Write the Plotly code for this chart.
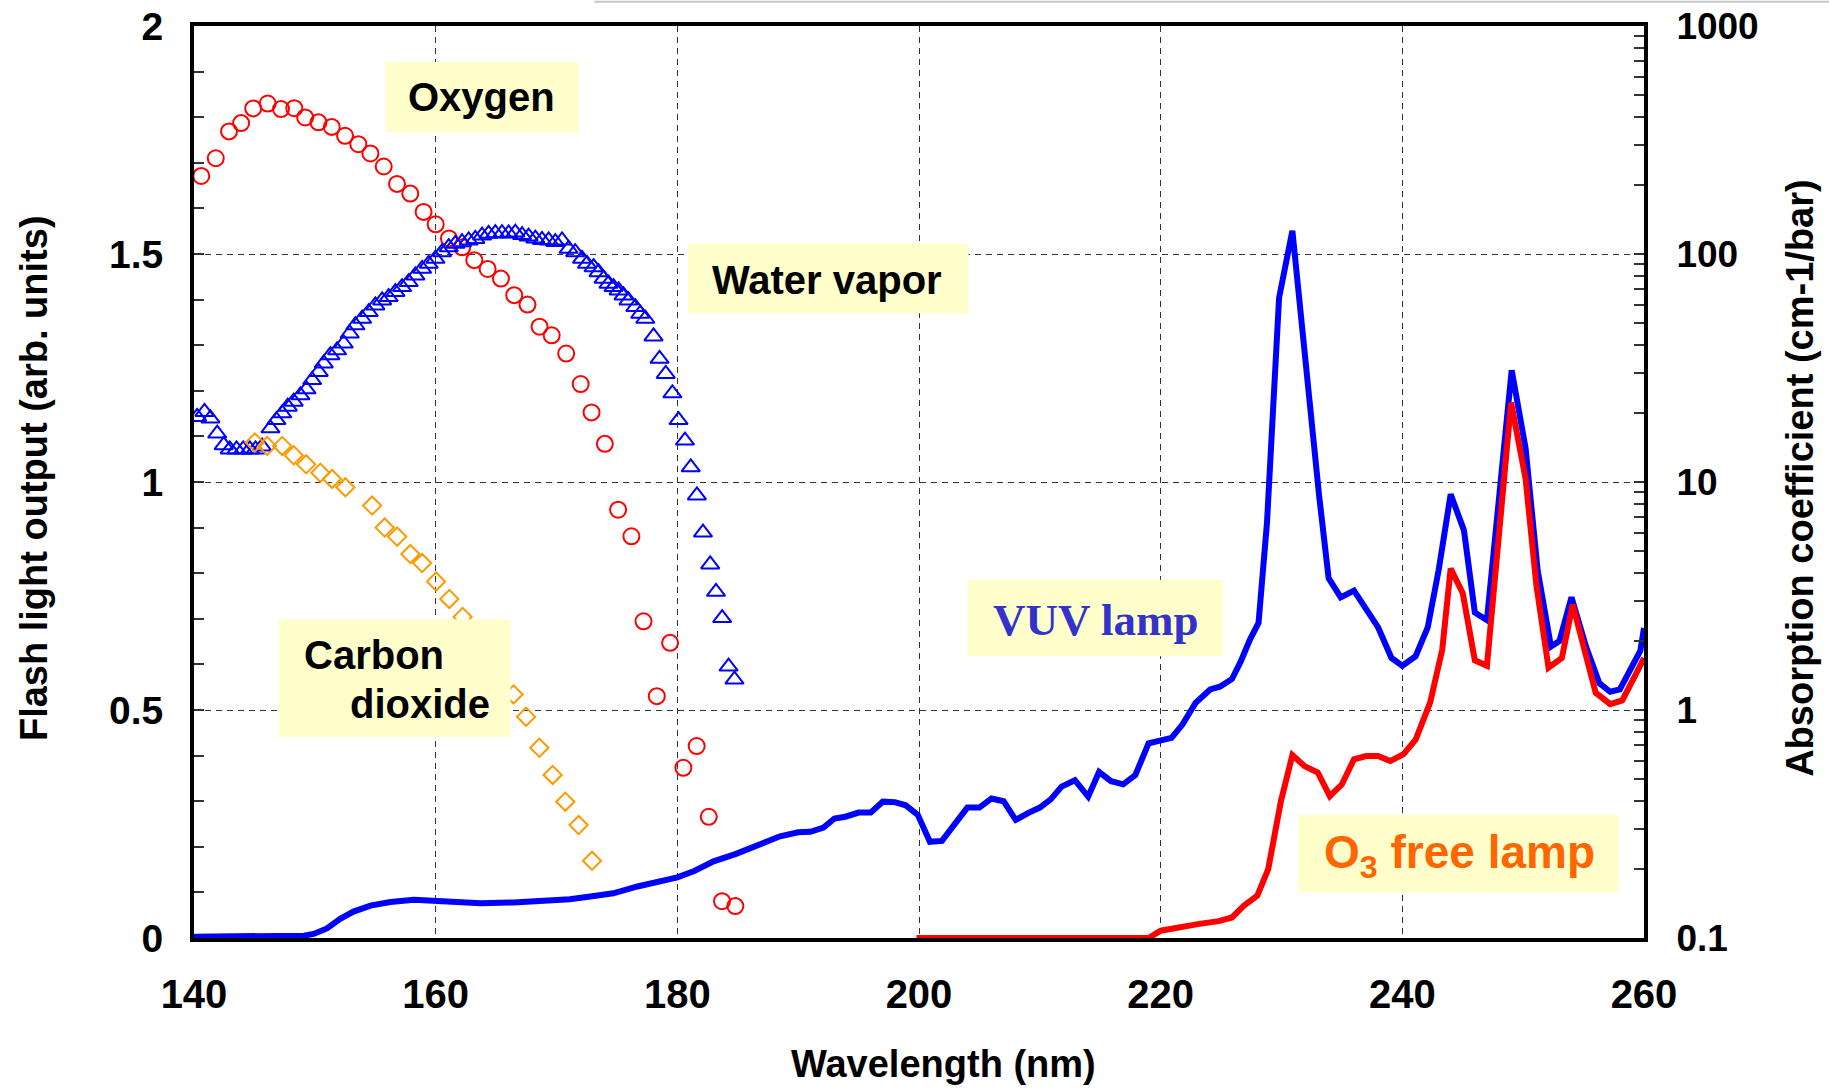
import plotly.graph_objects as go

# ---------------- data ----------------
# VUV lamp flash output (left axis, arb. units)
VUV_wl = [140, 145, 149.1, 149.9, 151.0, 152.1, 153.2, 154.6, 156.25, 158.2, 160.1, 161.8, 163.7, 166.45,
          169.2, 171.1, 172.8, 174.7, 176.7, 178.3, 180.0, 181.4, 183.0, 184.8, 186.9, 188.5, 190.0, 191.0,
          192.1, 193.0, 193.9, 195.0, 196.0, 197.0, 198.0, 198.9, 199.9, 200.9, 201.9, 203.0, 204.0, 205.0,
          206.0, 207.0, 208.0, 209.1, 210.0, 210.9, 211.8, 212.9, 214.0, 214.9, 215.9, 216.9, 217.9, 219.0,
          220.0, 220.9, 221.8, 222.9, 224.1, 224.9, 225.9, 226.6, 227.4, 228.1, 228.8, 229.8, 230.9, 232.1,
          233.1, 233.9, 234.9, 236.0, 238.0, 239.1, 240.0, 241.1, 242.1, 243.0, 244.0, 245.1, 246.0, 247.0,
          248.0, 249.05, 250.2, 251.2, 252.3, 253.0, 254.0, 255.2, 256.3, 257.2, 258.0, 258.8, 259.7, 260.0]
VUV_out = [0.003, 0.003, 0.005, 0.009, 0.021, 0.042, 0.058, 0.071, 0.079, 0.084, 0.082, 0.077, 0.076, 0.078,
           0.082, 0.085, 0.091, 0.098, 0.113, 0.122, 0.133, 0.147, 0.168, 0.184, 0.206, 0.223, 0.232, 0.233,
           0.242, 0.262, 0.266, 0.275, 0.275, 0.299, 0.298, 0.291, 0.270, 0.211, 0.213, 0.253, 0.286, 0.286,
           0.306, 0.300, 0.259, 0.275, 0.286, 0.304, 0.332, 0.346, 0.310, 0.364, 0.344, 0.337, 0.357, 0.427,
           0.432, 0.439, 0.468, 0.516, 0.545, 0.551, 0.568, 0.605, 0.655, 0.691, 0.911, 1.404, 1.551, 1.225,
           0.973, 0.789, 0.747, 0.762, 0.681, 0.614, 0.597, 0.618, 0.681, 0.806, 0.973, 0.894, 0.714, 0.697,
           0.98, 1.245, 1.074, 0.806, 0.639, 0.651, 0.747, 0.639, 0.559, 0.540, 0.545, 0.584, 0.630, 0.68]

# O3 free lamp flash output (left axis, arb. units)
O3F_wl = [199.8, 219.0, 220.0, 220.9, 221.8, 223.2, 224.8, 225.9, 226.9, 228.0, 228.9, 229.95, 230.9, 231.9,
          233.0, 234.0, 235.0, 236.0, 237.0, 238.0, 239.0, 240.1, 241.1, 242.3, 243.3, 244.0, 245.0, 246.0,
          247.0, 249.0, 250.2, 251.1, 252.1, 253.2, 254.1, 255.0, 256.0, 257.2, 258.2, 259.2, 260.0]
O3F_out = [0.0, 0.0, 0.016, 0.021, 0.023, 0.031, 0.037, 0.045, 0.071, 0.093, 0.151, 0.300, 0.401, 0.377,
           0.363, 0.311, 0.337, 0.392, 0.399, 0.399, 0.388, 0.403, 0.435, 0.516, 0.632, 0.810, 0.756, 0.609,
           0.597, 1.174, 1.007, 0.772, 0.593, 0.614, 0.731, 0.639, 0.538, 0.513, 0.521, 0.572, 0.614]

# Oxygen absorption coefficient (right axis, cm-1/bar)
O2_wl = [140.6, 141.8, 142.9, 143.9, 144.9, 146.1, 147.2, 148.3, 149.2, 150.3, 151.4, 152.5, 153.6, 154.6,
         155.7, 156.8, 157.9, 159.0, 160.0, 161.1, 162.2, 163.2, 164.3, 165.4, 166.5, 167.6, 168.6, 169.6,
         170.8, 172.0, 172.9, 174.0, 175.1, 176.2, 177.2, 178.3, 179.4, 180.5, 181.6, 182.6, 183.7, 184.8]
O2_abs = [220, 263, 345, 375, 435, 457, 432, 436, 397, 378, 361, 330, 303, 276,
          242, 203, 184, 153, 135, 117, 107, 94, 86, 78, 66, 60, 48, 44,
          36.6, 26.9, 20.2, 14.7, 7.56, 5.78, 2.45, 1.15, 1.97, 0.558, 0.695, 0.340, 0.145, 0.138]

# Water vapor absorption coefficient (right axis, cm-1/bar)
H2O_wl = [140.26, 140.87, 141.36, 141.92, 142.46, 142.96, 143.52, 144.07, 144.62, 145.09, 145.64, 146.33,
          146.82, 147.30, 147.76, 148.25, 148.81, 149.31, 149.78, 150.32, 150.74, 151.29, 151.84, 152.39,
          152.89, 153.36, 153.91, 154.46, 155.01, 155.57, 156.11, 156.67, 157.22, 157.77, 158.32, 158.88,
          159.42, 159.98, 160.53, 161.08, 161.63, 162.18, 162.73, 163.28, 163.84, 164.38, 164.94, 165.49,
          166.04, 166.59, 167.15, 167.69, 168.25, 168.80, 169.35, 169.90, 170.46, 171.00, 171.55, 172.11,
          172.52, 173.07, 173.48, 173.90, 174.31, 174.72, 175.14, 175.55, 175.96, 176.52, 176.93, 177.35,
          178.03, 178.53, 179.04, 179.59, 180.10, 180.63, 181.11, 181.62, 182.12, 182.72, 183.20, 183.71,
          184.24, 184.73]
H2O_abs = [19.3, 20.3, 19.0, 16.3, 14.5, 13.9, 13.9, 13.9, 13.9, 13.9, 14.3, 17.2,
           18.7, 20.0, 21.4, 22.5, 24.0, 25.5, 28.0, 30.4, 33.1, 36.0, 37.8, 40.5,
           44.8, 48.7, 52.0, 55.6, 59.5, 62.6, 64.7, 68.1, 71.6, 75.3, 80.5, 86.1,
           90.6, 95.3, 101.8, 107.1, 110.8, 112.6, 114.6, 116.5, 120.5, 122.6, 123.3, 123.3,
           123.0, 124.2, 121.1, 119.3, 116.9, 115.2, 114.6, 112.8, 114.6, 105.4, 101.8, 95.3,
           90.6, 87.5, 83.2, 77.9, 74.1, 71.6, 69.2, 65.8, 62.6, 58.5, 54.7, 52.0,
           43.5, 34.7, 29.8, 24.5, 18.7, 15.2, 11.6, 8.73, 6.00, 4.35, 3.30, 2.53,
           1.55, 1.36]

# Carbon dioxide absorption coefficient (right axis, cm-1/bar)
CO2_wl = [145.03, 146.05, 147.30, 148.25, 149.28, 150.46, 151.43, 152.53, 154.74, 155.78, 156.81, 157.91,
          158.88, 160.03, 161.13, 162.23, 166.45, 167.48, 168.58, 169.68, 170.73, 171.83, 172.94]
CO2_abs = [14.9, 14.4, 14.4, 13.1, 11.95, 10.98, 10.31, 9.48, 7.88, 6.31, 5.76, 4.83,
           4.41, 3.66, 3.07, 2.56, 1.17, 0.934, 0.683, 0.519, 0.396, 0.313, 0.218]

# ticks
X_TICKS = [140, 160, 180, 200, 220, 240, 260]
Y_TICKS = [0, 0.5, 1, 1.5, 2]
Y_TICKTEXT = ["0", "0.5", "1", "1.5", "2"]
Y2_TICKS = [0.1, 1, 10, 100, 1000]
Y2_TICKTEXT = ["0.1", "1", "10", "100", "1000"]
Y2_MINOR = [k * 10 ** e for e in (-1, 0, 1, 2) for k in range(2, 10)]

# ---------------- figure ----------------
SANS = "Liberation Sans, Arial, sans-serif"
SERIF = "Liberation Serif, Times New Roman, serif"

fig = go.Figure()
fig.add_trace(go.Scatter(x=VUV_wl, y=VUV_out, mode="lines", line=dict(color="#0000FF", width=6),
                         yaxis="y", showlegend=False))
fig.add_trace(go.Scatter(x=O3F_wl, y=O3F_out, mode="lines", line=dict(color="#FF0000", width=6),
                         yaxis="y", showlegend=False))
fig.add_trace(go.Scatter(x=O2_wl, y=O2_abs, mode="markers", yaxis="y2", showlegend=False,
                         marker=dict(symbol="circle-open", size=16, color="#FF0000",
                                     line=dict(color="#FF0000", width=2))))
fig.add_trace(go.Scatter(x=H2O_wl, y=H2O_abs, mode="markers", yaxis="y2", showlegend=False,
                         marker=dict(symbol="triangle-up-open", size=16, color="#0000FF",
                                     line=dict(color="#0000FF", width=2))))
fig.add_trace(go.Scatter(x=CO2_wl, y=CO2_abs, mode="markers", yaxis="y2", showlegend=False,
                         marker=dict(symbol="diamond-open", size=14, color="#FF9900",
                                     line=dict(color="#FF9900", width=2))))

BOX = "#FFFFCC"
shapes = []
boxes = [
    (155.85, 171.83, 1.767, 1.921),   # Oxygen
    (180.86, 204.10, 1.370, 1.523),   # Water vapor
    (147.0, 166.2, 0.4416, 0.699),    # Carbon dioxide
    (204.02, 225.15, 0.6177, 0.7856), # VUV lamp
    (231.4, 257.9, 0.0996, 0.2705),   # O3 free lamp
]
for x0, x1, y0, y1 in boxes:
    shapes.append(dict(type="rect", xref="x", yref="y", x0=x0, x1=x1, y0=y0, y1=y1,
                       fillcolor=BOX, line=dict(width=0), layer="above"))
# faint line at the very top of the picture
shapes.append(dict(type="line", xref="paper", yref="paper", x0=0.276, x1=1.13, y0=1.0265, y1=1.0265,
                   line=dict(color="#C4C8CC", width=2)))

ann = []
def label(x, y, text, size=40, color="black", family=SANS, xanchor="center"):
    ann.append(dict(x=x, y=y, xref="x", yref="y", text=text, showarrow=False, xanchor=xanchor,
                    yanchor="middle", font=dict(family=family, size=size, color=color, weight="bold")))

label(163.8, 1.845, "Oxygen")
label(192.4, 1.442, "Water vapor")
label(148.93, 0.620, "Carbon", xanchor="left")
label(152.77, 0.513, "dioxide", xanchor="left")
label(214.6, 0.697, "VUV lamp", size=45, color="#3333CC", family=SERIF)
label(244.7, 0.182, "O<sub>3</sub> free lamp", size=46, color="#FF6600")

ann.append(dict(x=0.5169, y=-0.1379, xref="paper", yref="paper", text="Wavelength (nm)", showarrow=False,
                xanchor="center", yanchor="middle", font=dict(family=SANS, size=38, color="black", weight="bold")))
ann.append(dict(x=-0.1103, y=0.5044, xref="paper", yref="paper", text="Flash light output (arb. units)",
                showarrow=False, textangle=-90, xanchor="center", yanchor="middle",
                font=dict(family=SANS, size=38, color="black", weight="bold")))
ann.append(dict(x=1.1075, y=0.5044, xref="paper", yref="paper", text="Absorption coefficient (cm-1/bar)",
                showarrow=False, textangle=-90, xanchor="center", yanchor="middle",
                font=dict(family=SANS, size=38, color="black", weight="bold")))

GRID = "#333333"
fig.update_layout(
    width=1829, height=1090,
    margin=dict(l=194, r=185, t=26, b=152, pad=0, autoexpand=False),
    paper_bgcolor="white", plot_bgcolor="white",
    shapes=shapes, annotations=ann, showlegend=False,
    xaxis=dict(range=[140, 260], tickvals=X_TICKS, showgrid=True, gridcolor=GRID, gridwidth=1,
               griddash="6px,5px", showline=True, linecolor="black", linewidth=4, mirror=True,
               ticks="", zeroline=False, ticklabelstandoff=18, automargin=False,
               tickfont=dict(family=SANS, size=40, color="black", weight="bold")),
    yaxis=dict(range=[0, 2], tickvals=Y_TICKS, ticktext=Y_TICKTEXT, showgrid=True, gridcolor=GRID,
               gridwidth=1, griddash="6px,5px", showline=True, linecolor="black", linewidth=4,
               mirror=True, ticks="inside", ticklen=10, tickwidth=2, tickcolor="#333333",
               zeroline=False, ticklabelstandoff=19, automargin=False,
               minor=dict(dtick=0.1, ticks="inside", ticklen=10, tickwidth=2, tickcolor="#333333",
                          showgrid=False),
               tickfont=dict(family=SANS, size=39, color="black", weight="bold")),
    yaxis2=dict(type="log", range=[-1, 3], overlaying="y", side="right", tickvals=Y2_TICKS,
                ticktext=Y2_TICKTEXT, showgrid=False, showline=True, linecolor="black", linewidth=4,
                ticks="inside", ticklen=10, tickwidth=2, tickcolor="#333333", zeroline=False,
                ticklabelstandoff=21, automargin=False,
                minor=dict(tickvals=Y2_MINOR, ticks="inside", ticklen=10, tickwidth=2,
                           tickcolor="#333333", showgrid=False),
                tickfont=dict(family=SANS, size=37, color="black", weight="bold")),
)

fig.write_html("out.html")
